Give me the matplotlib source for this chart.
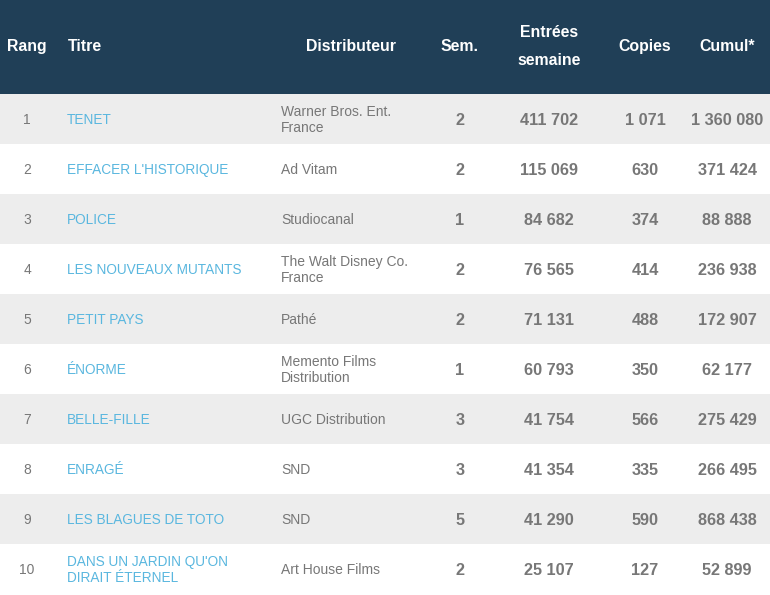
import matplotlib.pyplot as plt
from matplotlib.patches import Rectangle

plt.rcParams['font.family'] = ['Liberation Sans', 'DejaVu Sans']

# table data
rangs = [1, 2, 3, 4, 5, 6, 7, 8, 9, 10]
titres = ["TENET", "EFFACER L'HISTORIQUE", "POLICE", "LES NOUVEAUX MUTANTS",
          "PETIT PAYS", "ÉNORME", "BELLE-FILLE", "ENRAGÉ", "LES BLAGUES DE TOTO",
          "DANS UN JARDIN QU'ON\nDIRAIT ÉTERNEL"]
distributeurs = ["Warner Bros. Ent.\nFrance", "Ad Vitam", "Studiocanal",
                 "The Walt Disney Co.\nFrance", "Pathé", "Memento Films\nDistribution",
                 "UGC Distribution", "SND", "SND", "Art House Films"]
semaines = [2, 2, 1, 2, 2, 1, 3, 3, 5, 2]
entrees = [411702, 115069, 84682, 76565, 71131, 60793, 41754, 41354, 41290, 25107]
copies = [1071, 630, 374, 414, 488, 350, 566, 335, 590, 127]
cumul = [1360080, 371424, 88888, 236938, 172907, 62177, 275429, 266495, 868438, 52899]


def fmt(n):
    return f"{n:,}".replace(",", " ")


W, H = 770, 595
HEADER_H = 94
ROW_H = 50

fig = plt.figure(figsize=(W / 100, H / 100), dpi=100)
ax = fig.add_axes([0, 0, 1, 1])
ax.set_xlim(0, W)
ax.set_ylim(H, 0)
ax.axis("off")

HEAD_BG = "#203f57"
STRIPE = "#ededed"
TITLE_COL = "#5ab7df"
GREY = "#777777"

ax.add_patch(Rectangle((0, 0), W, HEADER_H, color=HEAD_BG, lw=0))

hkw = dict(color="white", fontsize=11.4, fontweight="bold", va="center_baseline")
ax.text(27, 45, "Rang", ha="center", **hkw)
ax.text(68, 45, "Titre", ha="left", **hkw)
ax.text(351, 45, "Distributeur", ha="center", **hkw)
ax.text(460, 45, "Sem.", ha="center", **hkw)
ax.text(549, 31, "Entrées", ha="center", **hkw)
ax.text(549, 59, "semaine", ha="center", **hkw)
ax.text(645, 45, "Copies", ha="center", **hkw)
ax.text(727, 45, "Cumul*", ha="center", **hkw)

for i in range(len(rangs)):
    top = HEADER_H + i * ROW_H
    yc = top + ROW_H / 2
    if i % 2 == 0:
        ax.add_patch(Rectangle((0, top), W, ROW_H, color=STRIPE, lw=0))
    ax.text(27, yc, str(rangs[i]), ha="center", va="center_baseline", color=GREY, fontsize=10)
    ax.text(67, yc + 1, titres[i], ha="left", va="center", color=TITLE_COL, fontsize=9.8,
            linespacing=1.2)
    ax.text(281, yc + 1, distributeurs[i], ha="left", va="center", color=GREY, fontsize=10,
            linespacing=1.2)
    nkw = dict(ha="center", va="center_baseline", color=GREY, fontsize=11.7, fontweight="bold")
    ax.text(460, yc, str(semaines[i]), **nkw)
    ax.text(549, yc, fmt(entrees[i]), **nkw)
    ax.text(645, yc, fmt(copies[i]), **nkw)
    ax.text(727, yc, fmt(cumul[i]), **nkw)

fig.savefig("out.png", dpi=100)
